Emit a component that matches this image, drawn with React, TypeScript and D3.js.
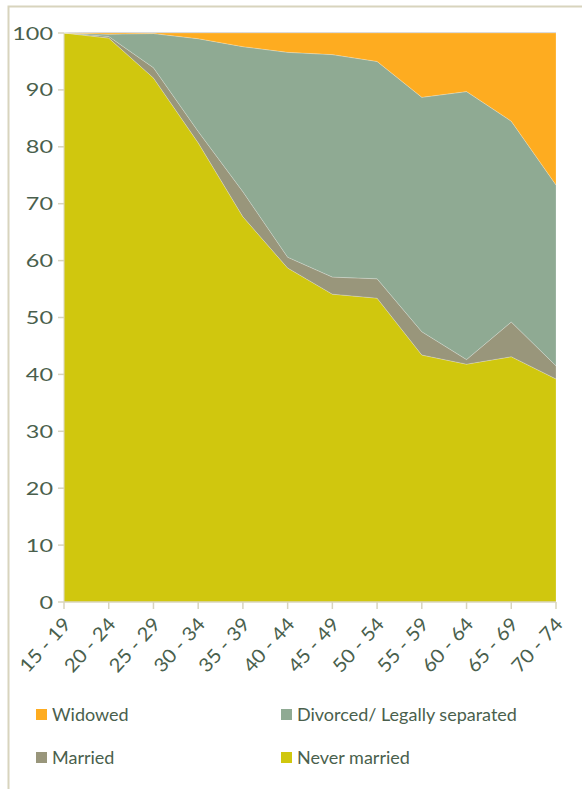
import React, { useEffect, useRef } from "react";
import * as d3 from "d3";

const ageGroups = ["15 - 19", "20 - 24", "25 - 29", "30 - 34", "35 - 39", "40 - 44", "45 - 49", "50 - 54", "55 - 59", "60 - 64", "65 - 69", "70 - 74"];
const neverMarried = [100, 99.1, 92.1, 80.7, 67.7, 58.7, 54.1, 53.4, 43.4, 41.8, 43.1, 39.2];
const married = [0, 0.3, 1.8, 2.0, 4.4, 1.9, 3.0, 3.4, 4.1, 0.8, 6.1, 2.3];
const divorced = [0, 0.4, 6.0, 16.3, 25.5, 36.0, 39.1, 38.2, 41.2, 47.1, 35.3, 31.8];
const widowed = [0, 0.2, 0.1, 1.0, 2.4, 3.4, 3.8, 5.0, 11.3, 10.3, 15.5, 26.7];
const yTicks = [0, 10, 20, 30, 40, 50, 60, 70, 80, 90, 100];

const seriesKeys = ["Never married", "Married", "Divorced/ Legally separated", "Widowed"];
const colors: Record<string, string> = {
  "Never married": "#d0c70e",
  Married: "#99967b",
  "Divorced/ Legally separated": "#8faa93",
  Widowed: "#feac20",
};
// legend order as drawn: row by row
const legendOrder = ["Widowed", "Divorced/ Legally separated", "Married", "Never married"];

const textColor = "#4a5f4d";
const axisColor = "#d8d4bd";
const font = "Lato, 'Open Sans', sans-serif";

const App: React.FC = () => {
  const svgRef = useRef<SVGSVGElement | null>(null);

  useEffect(() => {
    document.body.style.margin = "0";
    if (!svgRef.current) return;
    const width = 582;
    const height = 789;
    const margin = { top: 33, right: 26, bottom: 187, left: 64 };

    const svg = d3.select(svgRef.current);
    svg.selectAll("*").remove();
    svg.attr("width", width).attr("height", height);

    svg.append("rect").attr("width", width).attr("height", height).attr("fill", "#fff");

    // outer frame (left and top edges visible)
    svg.append("path")
      .attr("d", `M8.5,${height} V6.5 H${width}`)
      .attr("fill", "none")
      .attr("stroke", axisColor)
      .attr("stroke-width", 2);

    const table = ageGroups.map((g, i) => ({
      group: g,
      "Never married": neverMarried[i],
      Married: married[i],
      "Divorced/ Legally separated": divorced[i],
      Widowed: widowed[i],
    }));

    const x = d3.scalePoint<string>().domain(ageGroups).range([margin.left, width - margin.right]);
    const y = d3.scaleLinear().domain([0, 100]).range([height - margin.bottom, margin.top]);

    const stacked = d3.stack<any>().keys(seriesKeys)(table);

    const area = d3
      .area<any>()
      .x((d) => x(d.data.group)!)
      .y0((d) => y(d[0]))
      .y1((d) => y(d[1]));

    svg.append("line")
      .attr("x1", margin.left)
      .attr("x2", width - margin.right)
      .attr("y1", y(100) - 0.5)
      .attr("y2", y(100) - 0.5)
      .attr("stroke", "#d6d6d6");

    svg.append("g")
      .selectAll("path")
      .data(stacked)
      .enter()
      .append("path")
      .attr("fill", (d) => colors[d.key])
      .attr("stroke", "rgba(255,255,255,0.35)")
      .attr("stroke-width", 0.6)
      .attr("d", area);

    // y axis
    const yAxis = svg.append("g").attr("transform", `translate(${margin.left},0)`);
    yAxis.append("line")
      .attr("x1", 0).attr("x2", 0)
      .attr("y1", y(0)).attr("y2", y(100))
      .attr("stroke", axisColor);
    yAxis.selectAll(".tick")
      .data(yTicks)
      .enter()
      .append("line")
      .attr("x1", -6).attr("x2", 0)
      .attr("y1", (d) => y(d)).attr("y2", (d) => y(d))
      .attr("stroke", axisColor)
      .attr("stroke-width", 1.5);
    yAxis.selectAll(".lbl")
      .data(yTicks)
      .enter()
      .append("text")
      .attr("transform", (d) => `translate(-11,${y(d) + 6.5}) scale(1.3,1)`)
      .attr("text-anchor", "end")
      .attr("font-family", font)
      .attr("font-size", 18)
      .attr("fill", textColor)
      .text((d) => d);

    // x axis
    const xAxis = svg.append("g").attr("transform", `translate(0,${y(0)})`);
    xAxis.append("line")
      .attr("x1", margin.left).attr("x2", width - margin.right)
      .attr("stroke", axisColor)
      .attr("stroke-width", 1.5);
    xAxis.selectAll(".tick")
      .data(ageGroups)
      .enter()
      .append("line")
      .attr("x1", (d) => x(d)!).attr("x2", (d) => x(d)!)
      .attr("y1", 0).attr("y2", 7)
      .attr("stroke", axisColor)
      .attr("stroke-width", 1.5);
    xAxis.selectAll(".lbl")
      .data(ageGroups)
      .enter()
      .append("text")
      .attr("transform", (d) => `translate(${x(d)! + 8},${23}) rotate(-48) scale(1.08,1)`)
      .attr("text-anchor", "end")
      .attr("font-family", font)
      .attr("font-size", 19)
      .attr("fill", textColor)
      .text((d) => d);

    // legend
    const legend = svg.append("g");
    const item = legend.selectAll("g")
      .data(legendOrder)
      .enter()
      .append("g")
      .attr("transform", (d, i) => `translate(${i % 2 === 0 ? 36 : 281},${i < 2 ? 709 : 752})`);
    item.append("rect")
      .attr("width", 11)
      .attr("height", 11)
      .attr("fill", (d) => colors[d]);
    item.append("text")
      .attr("x", 16)
      .attr("y", 12)
      .attr("font-family", font)
      .attr("font-size", 18)
      .attr("fill", textColor)
      .text((d) => d);
  }, []);

  return <svg ref={svgRef} style={{ display: "block" }} />;
};

export default App;
